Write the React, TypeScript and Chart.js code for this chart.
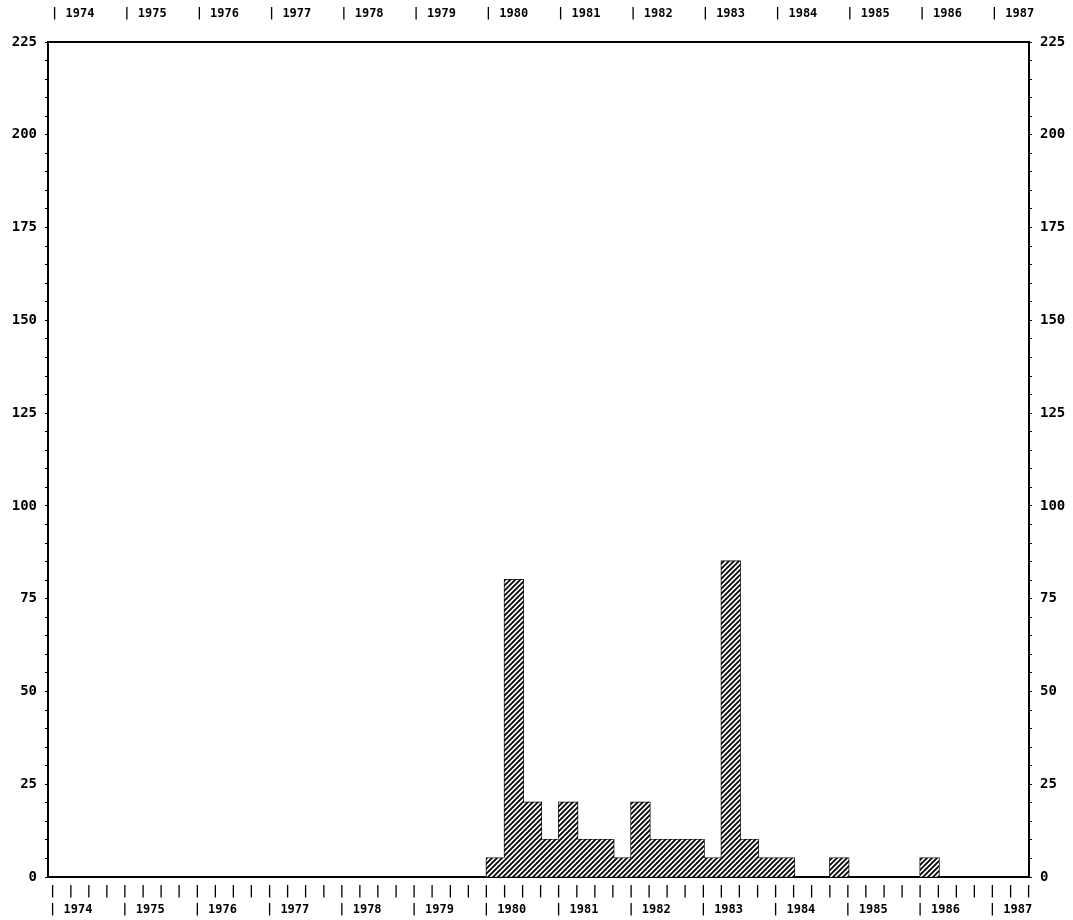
import React, { useEffect, useRef } from "react";
import { Chart, registerables } from "chart.js";

Chart.register(...registerables);

// ---- Data (quarterly counts, first bin starts at 1980 Q1) ----
const firstYear = 1980;
const counts1980 = [5, 80, 20, 10];
const counts1981 = [20, 10, 10, 5];
const counts1982 = [20, 10, 10, 10];
const counts1983 = [5, 85, 10, 5];
const counts1984 = [5, 0, 0, 5];
const counts1985 = [0, 0, 0, 0];
const counts1986 = [5, 0, 0, 0];
const counts1987 = [0, 0];

const yearLabels = [1974, 1975, 1976, 1977, 1978, 1979, 1980, 1981, 1982, 1983, 1984, 1985, 1986, 1987];
const yTickLabels = [0, 25, 50, 75, 100, 125, 150, 175, 200, 225];

const X_MIN = 1973.93;
const X_MAX = 1987.5;
const Y_MAX = 225;

const FONT = { family: "'DejaVu Sans Mono', monospace", size: 12, weight: "bold" as const };
const YFONT = { family: "'DejaVu Sans Mono', monospace", size: 14, weight: "bold" as const };

function makeHatch(): CanvasPattern | string {
  const s = 5;
  const c = document.createElement("canvas");
  c.width = s;
  c.height = s;
  const g = c.getContext("2d");
  if (!g) return "#888";
  g.fillStyle = "#fff";
  g.fillRect(0, 0, s, s);
  g.strokeStyle = "#000";
  g.lineWidth = 1.8;
  g.beginPath();
  g.moveTo(-1, s + 1);
  g.lineTo(s + 1, -1);
  g.moveTo(-1, 1);
  g.lineTo(1, -1);
  g.moveTo(s - 1, s + 1);
  g.lineTo(s + 1, s - 1);
  g.stroke();
  return g.createPattern(c, "repeat") || "#888";
}

export default function App() {
  const ref = useRef<HTMLCanvasElement | null>(null);

  useEffect(() => {
    if (!ref.current) return;
    const all = [
      ...counts1980, ...counts1981, ...counts1982, ...counts1983,
      ...counts1984, ...counts1985, ...counts1986, ...counts1987,
    ];
    const bars = all
      .map((v, k) => ({ x: firstYear + k * 0.25 + 0.125, y: v }))
      .filter((p) => p.y > 0);
    const outline: { x: number; y: number }[] = [{ x: firstYear, y: 0 }];
    all.forEach((v, k) => outline.push({ x: firstYear + k * 0.25, y: v }));
    outline.push({ x: firstYear + all.length * 0.25, y: 0 });

    const quarterTicks: number[] = [];
    for (let j = 0; yearLabels[0] + j * 0.25 <= X_MAX + 1e-9; j++) quarterTicks.push(yearLabels[0] + j * 0.25);
    const minorY: number[] = [];
    for (let v = 0; v <= Y_MAX; v += 5) minorY.push(v);

    const isInt = (v: number) => Math.abs(v - Math.round(v)) < 1e-6;

    const chart = new Chart(ref.current, {
      type: "bar",
      data: {
        datasets: [
          {
            type: "bar",
            data: bars as any,
            backgroundColor: makeHatch() as any,
            borderWidth: 0,
            barPercentage: 1,
            categoryPercentage: 1,
            xAxisID: "x",
            yAxisID: "y",
          } as any,
          {
            type: "line",
            data: outline as any,
            stepped: true,
            borderColor: "#000",
            borderWidth: 2,
            pointRadius: 0,
            fill: false,
            xAxisID: "x",
            yAxisID: "y",
          } as any,
        ],
      },
      options: {
        responsive: false,
        animation: false,
        layout: { padding: 0 },
        plugins: { legend: { display: false }, tooltip: { enabled: false } },
        scales: {
          x: {
            type: "linear",
            position: "bottom",
            min: X_MIN,
            max: X_MAX,
            offset: false,
            afterBuildTicks: (scale: any) => {
              scale.ticks = quarterTicks.map((v) => ({ value: v }));
            },
            afterFit: (scale: any) => {
              scale.height = 43;
            },
            grid: { drawOnChartArea: false, drawTicks: false },
            border: { display: true, color: "#000", width: 2 },
            ticks: {
              autoSkip: false,
              maxRotation: 0,
              minRotation: 0,
              align: "start",
              labelOffset: -4,
              padding: 6,
              color: "#000",
              font: { ...FONT, lineHeight: 1.5 },
              callback: (value: any) => {
                const v = Number(value);
                if (isInt(v) && yearLabels.includes(Math.round(v))) return ["|", "| " + Math.round(v)];
                return "|";
              },
            },
          },
          x2: {
            type: "linear",
            position: "top",
            min: X_MIN,
            max: X_MAX,
            offset: false,
            afterBuildTicks: (scale: any) => {
              scale.ticks = yearLabels.map((v) => ({ value: v }));
            },
            afterFit: (scale: any) => {
              scale.height = 42;
            },
            grid: { drawOnChartArea: false, drawTicks: false },
            border: { display: true, color: "#000", width: 2 },
            ticks: {
              autoSkip: false,
              maxRotation: 0,
              minRotation: 0,
              align: "start",
              labelOffset: -2,
              padding: 21,
              color: "#000",
              font: FONT,
              callback: (value: any) => "| " + Math.round(Number(value)),
            },
          },
          y: {
            type: "linear",
            position: "left",
            min: 0,
            max: Y_MAX,
            afterBuildTicks: (scale: any) => {
              scale.ticks = minorY.map((v) => ({ value: v }));
            },
            afterFit: (scale: any) => {
              scale.width = 48;
            },
            grid: { drawOnChartArea: false, drawTicks: true, tickLength: 3, color: "#000" },
            border: { display: true, color: "#000", width: 2 },
            ticks: {
              autoSkip: false,
              padding: 8,
              color: "#000",
              font: YFONT,
              callback: (value: any) => (yTickLabels.includes(Number(value)) ? String(value) : ""),
            },
          },
          y2: {
            type: "linear",
            position: "right",
            min: 0,
            max: Y_MAX,
            afterBuildTicks: (scale: any) => {
              scale.ticks = minorY.map((v) => ({ value: v }));
            },
            afterFit: (scale: any) => {
              scale.width = 44;
            },
            grid: { drawOnChartArea: false, drawTicks: true, tickLength: 3, color: "#000" },
            border: { display: true, color: "#000", width: 2 },
            ticks: {
              autoSkip: false,
              padding: 8,
              color: "#000",
              font: YFONT,
              callback: (value: any) => (yTickLabels.includes(Number(value)) ? String(value) : ""),
            },
          },
        },
      },
    });
    return () => chart.destroy();
  }, []);

  return (
    <div style={{ position: "absolute", left: 0, top: 0, width: 1073, height: 920, background: "#fff" }}>
      <canvas ref={ref} width={1073} height={920} style={{ display: "block" }} />
    </div>
  );
}
